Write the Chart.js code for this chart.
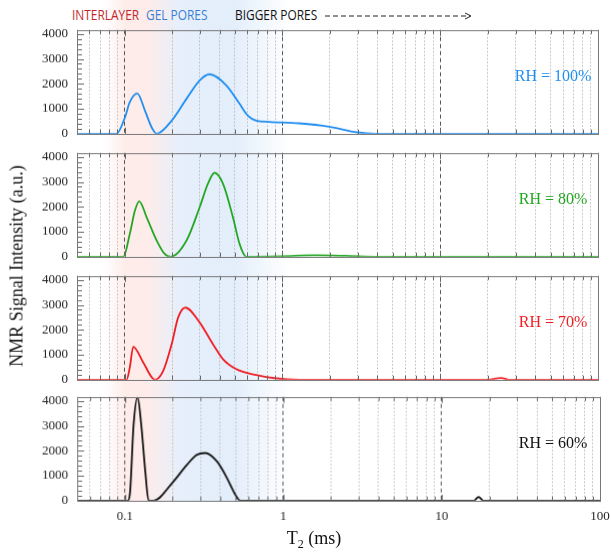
<!DOCTYPE html>
<html>
<head>
<meta charset="utf-8">
<script src="https://cdn.jsdelivr.net/npm/chart.js@4"></script>
<style>
    body { margin: 0; background: #fff; }
    #wrap { position: relative; width: 611px; height: 555px; overflow: hidden; }
    #shade {
        position: absolute; left: 0; top: 0; width: 611px; height: 501px;
        background: linear-gradient(to right,
            rgba(253,236,233,0) 104px, rgba(253,236,233,1) 126px, #fdecea 148px,
            #e6effb 180px, #e3eefb 234px, rgba(227,238,251,0) 290px);
    }
    canvas { position: absolute; left: 0; }
    .hdr { position: absolute; top: 5px; font: 14px "Open Sans", sans-serif; line-height: 20px; white-space: nowrap; transform: scaleX(0.85); transform-origin: left center; }
    .rh { position: absolute; width: 120px; left: 493px; text-align: center; font: 16px "Liberation Serif", serif; line-height: 20px; }
    #ytitle { position: absolute; left: 17px; top: 266px; transform: translate(-50%, -50%) rotate(-90deg); font: 18px "Liberation Serif", serif; white-space: nowrap; color: #111; }
    #xtitle { position: absolute; left: 314px; top: 540px; transform: translate(-50%, -50%); font: 18px "Liberation Serif", serif; white-space: nowrap; color: #111; }
    #xtitle sub { font-size: 12px; }
</style>
</head>
<body>
<div id="wrap">
    <div id="shade"></div>
    <span class="hdr" style="left:72px;color:#c1272d">INTERLAYER</span>
    <span class="hdr" style="left:146px;color:#3b7fd4">GEL PORES</span>
    <span class="hdr" style="left:235px;color:#111">BIGGER PORES</span>
    <svg style="position:absolute;left:320px;top:8px" width="160" height="16">
        <line x1="5" y1="8" x2="150" y2="8" stroke="#222" stroke-width="1" stroke-dasharray="5,3"/>
        <polyline points="145,5 151,8 145,11" fill="none" stroke="#222" stroke-width="1"/>
    </svg>
    <canvas id="c0" width="611" height="123"></canvas>
    <canvas id="c1" width="611" height="123"></canvas>
    <canvas id="c2" width="611" height="123"></canvas>
    <canvas id="c3" width="611" height="148"></canvas>
    <div id="ytitle">NMR Signal Intensity (a.u.)</div>
    <div id="xtitle">T<sub>2</sub> (ms)</div>
</div>
<script>
// tick values
const X_TICKS = [0.05, 0.06, 0.07, 0.08, 0.09,
    0.1, 0.2, 0.3, 0.4, 0.5, 0.6, 0.7, 0.8, 0.9,
    1, 2, 3, 4, 5, 6, 7, 8, 9,
    10, 20, 30, 40, 50, 60, 70, 80, 90, 100];
const X_LABELS = [0.1, 1, 10, 100];
const X_DECADES = [0.1, 1, 10];
const Y_LABELS = [0, 1000, 2000, 3000, 4000];
const Y_MINOR_STEP = 200;

// series: T2 (ms) and signal (a.u.)
const T2_RH100 = [0.05, 0.089, 0.1007, 0.108, 0.1205, 0.1347, 0.1485, 0.16, 0.199, 0.247, 0.2995, 0.346, 0.4415, 0.5356, 0.604, 0.683, 0.828, 1.28, 1.98, 2.99, 3.9, 100];
const SIG_RH100 = [0, 0, 660, 1265, 1610, 930, 255, 0, 525, 1400, 2140, 2385, 1940, 1200, 727, 525, 473, 416, 283, 53, 0, 0];

const T2_RH80 = [0.05, 0.0983, 0.108, 0.1165, 0.124, 0.138, 0.16, 0.18, 0.1965, 0.247, 0.2995, 0.338, 0.372, 0.42, 0.486, 0.5356, 0.59, 1.0, 1.6, 2.5, 4, 100];
const SIG_RH80 = [0, 0, 915, 1857, 2220, 1587, 646, 104, 0, 646, 1992, 2936, 3365, 2936, 1587, 513, 0, 20, 55, 35, 0, 0];

const T2_RH70 = [0.05, 0.103, 0.108, 0.1136, 0.1314, 0.1557, 0.176, 0.199, 0.2185, 0.243, 0.2995, 0.363, 0.42, 0.51, 0.683, 0.913, 1.28, 20, 24.4, 27, 100];
const SIG_RH70 = [0, 0, 490, 1320, 690, 0, 360, 1428, 2490, 2890, 2290, 1428, 828, 428, 188, 52, 0, 0, 70, 0, 0];

const T2_RH60 = [0.05, 0.1047, 0.108, 0.1136, 0.1205, 0.127, 0.1347, 0.1413, 0.152, 0.199, 0.247, 0.285, 0.322, 0.382, 0.4415, 0.498, 0.5356, 16, 17.1, 18.3, 100];
const SIG_RH60 = [0, 0, 370, 3040, 4150, 3040, 1170, 0, 0, 707, 1440, 1840, 1910, 1570, 908, 240, 0, 0, 150, 0, 0];

const SERIES = [
    { name: 'RH = 100%', t2: T2_RH100, sig: SIG_RH100, color: '#1f8ef1' },
    { name: 'RH = 80%', t2: T2_RH80, sig: SIG_RH80, color: '#22a622' },
    { name: 'RH = 70%', t2: T2_RH70, sig: SIG_RH70, color: '#f01e23' },
    { name: 'RH = 60%', t2: T2_RH60, sig: SIG_RH60, color: '#111111' }
];

// wanted plot boxes in page pixels
const PANEL_TOPS = [30, 153, 276, 397];
const PANEL_H = 103;
const PLOT_LEFT = 77;
const PLOT_W = 522;
const Y_MAX = 4160;

// frame + inner tick marks
const framePlugin = {
    id: 'frame',
    afterDraw(chart) {
        const { ctx, chartArea: a, scales } = chart;
        ctx.save();
        ctx.strokeStyle = '#666';
        ctx.lineWidth = 1;
        ctx.beginPath();
        for (let v = 0; v <= 4000; v += Y_MINOR_STEP) {
            const y = Math.round(scales.y.getPixelForValue(v)) + 0.5;
            const len = v % 1000 === 0 ? 7 : 5;
            ctx.moveTo(a.left, y);
            ctx.lineTo(a.left + len, y);
        }
        X_TICKS.forEach(v => {
            const x = Math.round(scales.x.getPixelForValue(v)) + 0.5;
            const len = X_DECADES.includes(v) ? 6 : 4;
            ctx.moveTo(x, a.bottom);
            ctx.lineTo(x, a.bottom - len);
            ctx.moveTo(x, a.top);
            ctx.lineTo(x, a.top + len);
        });
        ctx.stroke();
        ctx.strokeStyle = '#777';
        ctx.strokeRect(Math.round(a.left) + 0.5, Math.round(a.top) + 0.5,
            Math.round(a.right - a.left), Math.round(a.bottom - a.top));
        ctx.restore();
    }
};

function makePanel(i) {
    const s = SERIES[i];
    const last = i === SERIES.length - 1;
    const canvas = document.getElementById('c' + i);

    const label = document.createElement('div');
    label.className = 'rh';
    label.style.top = (PANEL_TOPS[i] + 36) + 'px';
    label.style.color = s.color;
    label.textContent = s.name;
    document.getElementById('wrap').appendChild(label);

    const chart = new Chart(canvas.getContext('2d'), {
        type: 'line',
        data: {
            datasets: [{
                label: s.name,
                data: s.t2.map((t, k) => ({ x: t, y: s.sig[k] })),
                borderColor: s.color,
                borderWidth: 1.8,
                pointRadius: 0,
                fill: false,
                cubicInterpolationMode: 'monotone'
            }]
        },
        options: {
            responsive: false,
            maintainAspectRatio: false,
            animation: false,
            devicePixelRatio: 1,
            layout: { padding: 0 },
            plugins: { legend: { display: false }, tooltip: { enabled: false } },
            scales: {
                x: {
                    type: 'logarithmic',
                    min: 0.05,
                    max: 100,
                    afterBuildTicks: sc => { sc.ticks = X_TICKS.map(v => ({ value: v })); },
                    afterFit: sc => { sc.height = last ? 30 : 0; },
                    border: {
                        display: false,
                        dash: c => (c.tick && X_DECADES.includes(c.tick.value)) ? [4, 3] : [1.5, 2]
                    },
                    grid: {
                        drawTicks: false,
                        lineWidth: 1,
                        color: c => (c.tick && X_DECADES.includes(c.tick.value)) ? '#555' : '#b8b8b8'
                    },
                    ticks: {
                        display: last,
                        autoSkip: false,
                        maxRotation: 0,
                        padding: 8,
                        color: '#222',
                        font: { family: 'Liberation Serif', size: 13 },
                        callback: v => X_LABELS.includes(v) ? String(v) : ''
                    }
                },
                y: {
                    min: 0,
                    max: Y_MAX,
                    afterBuildTicks: sc => { sc.ticks = Y_LABELS.map(v => ({ value: v })); },
                    afterFit: sc => { sc.width = PLOT_LEFT; },
                    border: { display: false },
                    grid: { display: false, drawTicks: false },
                    ticks: {
                        padding: 9,
                        color: '#222',
                        font: { family: 'Liberation Serif', size: 13 },
                        callback: v => String(v)
                    }
                }
            }
        },
        plugins: [framePlugin]
    });

    // size the canvas so the plot box lands where the reference has it
    let a = chart.chartArea;
    const w = canvas.width + (PLOT_W - (a.right - a.left));
    const h = canvas.height + (PANEL_H - (a.bottom - a.top));
    chart.resize(w, h);
    a = chart.chartArea;
    canvas.style.left = (PLOT_LEFT - a.left) + 'px';
    canvas.style.top = (PANEL_TOPS[i] - a.top) + 'px';
}

SERIES.forEach((s, i) => makePanel(i));
</script>
</body>
</html>
